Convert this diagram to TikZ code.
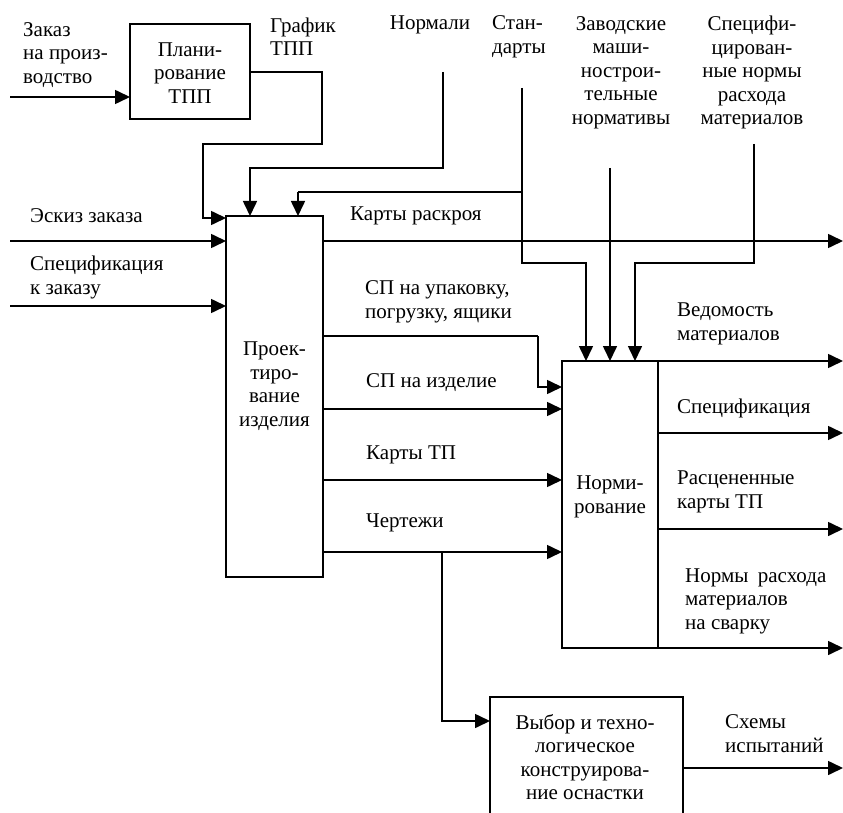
\documentclass[tikz,border=0pt]{standalone}
\usepackage{fontspec}
\setmainfont{Liberation Serif}
\newfontfamily\tnrfont{Liberation Serif}
\usetikzlibrary{arrows.meta}
\begin{document}
\begin{tikzpicture}[x=1pt,y=-1pt,
  lbl/.style={inner sep=0pt, font=\tnrfont\fontsize{21}{23.5}\selectfont},
  ln/.style={line width=1.6pt},
  ar/.style={line width=1.6pt, -{Triangle[length=15pt,width=14pt]}},
  box/.style={draw, line width=1.6pt, inner sep=0pt, outer sep=0pt}
]
\useasboundingbox (0,0) rectangle (843,813);
\clip (0,0) rectangle (843,813);

% boxes
\node[box, minimum width=120pt, minimum height=95pt] (plan) at (190,71.5) {};
\node[box, minimum width=97pt, minimum height=361pt] (proj) at (274.5,396.5) {};
\node[box, minimum width=96pt, minimum height=287pt] (norm) at (610,504.5) {};
\node[box, minimum width=193pt, minimum height=140pt] (vyb) at (586.5,767) {};

% box texts
\node[lbl, align=center] (tplan) at (190,73) {Плани-\\рование\\ТПП};
\node[lbl, align=center] (tproj) at (274.5,386) {Проек-\\тиро-\\вание\\изделия};
\node[lbl, align=center] (tnorm) at (610,497) {Норми-\\рование};
\node[lbl, align=center] (tvyb) at (585,757) {Выбор и техно-\\логическое\\конструирова-\\ние оснастки};

% labels
\node[lbl, anchor=west, align=left] (lzak) at (23,55) {Заказ\\на произ-\\водство};
\node[lbl, anchor=west, align=left] (lgraf) at (270,36.5) {График\\ТПП};
\node[lbl] (lnorm) at (430,25) {Нормали};
\node[lbl, anchor=west, align=left] (lstd) at (492,37) {Стан-\\дарты};
\node[lbl, align=center] (lzav) at (621,72.5) {Заводские\\маши-\\нострои-\\тельные\\нормативы};
\node[lbl, align=center] (lspn) at (752,72.5) {Специфи-\\цирован-\\ные нормы\\расхода\\материалов};
\node[lbl, anchor=west] (lesk) at (30,216) {Эскиз заказа};
\node[lbl, anchor=west, align=left] (lspz) at (30,277.5) {Спецификация\\к заказу};
\node[lbl, anchor=west] (lkr) at (350,216) {Карты раскроя};
\node[lbl, anchor=west, align=left] (lspu) at (365,302) {СП на упаковку,\\погрузку, ящики};
\node[lbl, anchor=west] (lspi) at (366,383) {СП на изделие};
\node[lbl, anchor=west] (lktp) at (366,455) {Карты ТП};
\node[lbl, anchor=west] (lche) at (366,523) {Чертежи};
\node[lbl, anchor=west, align=left] (lved) at (677,324) {Ведомость\\материалов};
\node[lbl, anchor=west] (lspc) at (677,408) {Спецификация};
\node[lbl, anchor=west, align=left] (lras) at (677,492) {Расцененные\\карты ТП};
\node[lbl, anchor=west, align=left] (lnrs) at (685,601) {Нормы\hspace{0.45em}расхода\\материалов\\на сварку};
\node[lbl, anchor=west, align=left] (lsch) at (725,733.5) {Схемы\\испытаний};

% coordinates
\coordinate (iZak) at (10,97);
\coordinate (iEsk) at (10,241);
\coordinate (iSpz) at (10,306);
\coordinate (gA) at (322,144);
\coordinate (gB) at (203,218);
\coordinate (nTop) at (443,72);
\coordinate (nA) at (250,168);
\coordinate (sTop) at (522,88);
\coordinate (sJ) at (522,192);
\coordinate (sC) at (298,192);
\coordinate (sA) at (522,263);
\coordinate (sB) at (586,263);
\coordinate (zTop) at (610,168);
\coordinate (cTop) at (754,144);
\coordinate (cA) at (754,263);
\coordinate (cB) at (635,263);
\coordinate (uA) at (538,336);
\coordinate (uB) at (538,387);
\coordinate (chJ) at (442,552);
\coordinate (chA) at (442,721);
\coordinate (oR) at (843,0);

% inputs
\draw[ar] (iZak) -- (iZak -| plan.west);
\draw[ar] (iEsk) -- (iEsk -| proj.west);
\draw[ar] (iSpz) -- (iSpz -| proj.west);
\draw[ar] (plan.east |- 0,72) -| (gA) -| (gB) -- (gB -| proj.west);
\draw[ar] (nTop) |- (nA) -- (nA |- proj.north);
\draw[ar] (sTop) -- (sA) -- (sB) -- (sB |- norm.north);
\draw[ln] (sJ) -- (sC);
\draw[ar] (sC) -- (sC |- proj.north);
\draw[ar] (zTop) -- (zTop |- norm.north);
\draw[ar] (cTop) -- (cA) -- (cB) -- (cB |- norm.north);

% proj outputs
\draw[ar] (proj.east |- iEsk) -- (oR |- iEsk);
\draw[ln] (proj.east |- uA) -- (uA);
\draw[ar] (uA) -- (uB) -- (uB -| norm.west);
\draw[ar] (proj.east |- 0,409) -- (norm.west |- 0,409);
\draw[ar] (proj.east |- 0,480) -- (norm.west |- 0,480);
\draw[ar] (proj.east |- chJ) -- (chJ -| norm.west);
\draw[ar] (chJ) -- (chA) -- (chA -| vyb.west);

% norm outputs
\draw[ln] (658,361) -- (658,648);
\draw[ar] (norm.north east) -- (oR |- norm.north east);
\draw[ar] (658,433) -- (843,433);
\draw[ar] (658,529) -- (843,529);
\draw[ar] (norm.south east) -- (oR |- norm.south east);

% vyb output
\draw[ar] (vyb.east |- 0,768) -- (oR |- 0,768);
\end{tikzpicture}
\end{document}
